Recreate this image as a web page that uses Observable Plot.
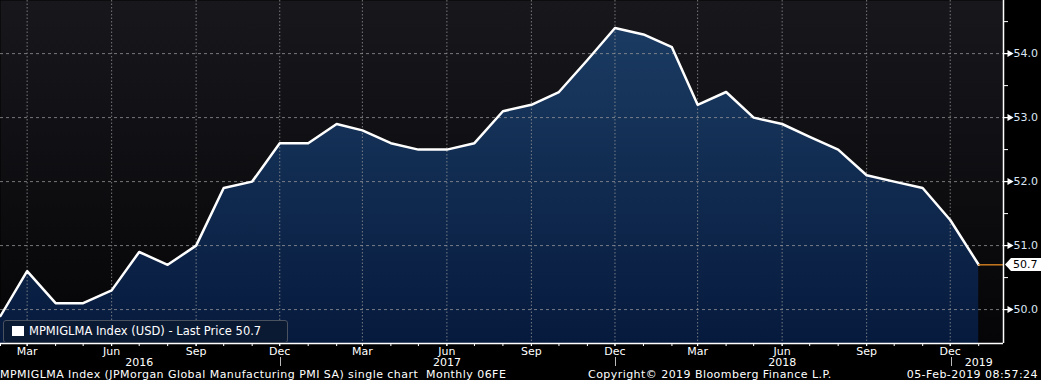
<!DOCTYPE html>
<html><head><meta charset="utf-8">
<script src="https://cdn.jsdelivr.net/npm/d3@7"></script>
<script src="https://cdn.jsdelivr.net/npm/@observablehq/plot@0.6"></script>
<style>
body{margin:0;background:#000;}
#wrap{position:relative;width:1041px;height:380px;background:#000;overflow:hidden;font-family:"DejaVu Sans",sans-serif;}
#legend{position:absolute;left:3px;top:320px;width:283px;height:21px;border:1px solid #4a5260;border-radius:3px;background:#0b1a33;color:#fff;font-size:11.5px;line-height:21px;white-space:nowrap;}
#legend .sw{display:inline-block;width:12px;height:10px;background:#fff;margin:0 5px 0 8px;vertical-align:-1px}
#footer{position:absolute;left:0;top:369px;width:1041px;height:11px;color:#fff;font-size:11px;line-height:11px;white-space:pre;letter-spacing:0.45px;}
#footer span{position:absolute;top:0}
#lastlabel{position:absolute;left:1005px;width:36px;height:13px;background:#fff;color:#000;font-size:11px;line-height:13px;padding-left:8px;box-sizing:border-box;white-space:nowrap;
  clip-path:polygon(0 50%, 6px 0, 100% 0, 100% 100%, 6px 100%);}
</style></head>
<body>
<div id="wrap">
  <div id="chart"></div>
  <div id="legend"><span class="sw"></span>MPMIGLMA Index (USD) - Last Price 50.7</div>
  <div id="lastlabel"></div>
  <div id="footer"><span style="left:0">MPMIGLMA Index (JPMorgan Global Manufacturing PMI SA) single chart  Monthly 06FE</span><span style="left:588px">Copyright© 2019 Bloomberg Finance L.P.</span><span style="right:3px">05-Feb-2019 08:57:24</span></div>
</div>
<script>
const months = ["2016-02","2016-03","2016-04","2016-05","2016-06","2016-07","2016-08","2016-09","2016-10","2016-11","2016-12",
"2017-01","2017-02","2017-03","2017-04","2017-05","2017-06","2017-07","2017-08","2017-09","2017-10","2017-11","2017-12",
"2018-01","2018-02","2018-03","2018-04","2018-05","2018-06","2018-07","2018-08","2018-09","2018-10","2018-11","2018-12",
"2019-01"];
const values = [49.9,50.6,50.1,50.1,50.3,50.9,50.7,51.0,51.9,52.0,52.6,
52.6,52.9,52.8,52.6,52.5,52.5,52.6,53.1,53.2,53.4,53.9,54.4,
54.3,54.1,53.2,53.4,53.0,52.9,52.7,52.5,52.1,52.0,51.9,51.4,
50.7];
const yTicks = [50, 51, 52, 53, 54];
const yMinorTicks = [50.5, 51.5, 52.5, 53.5, 54.5];
const monthLabelTicks = ["2016-03","2016-06","2016-09","2016-12","2017-03","2017-06","2017-09","2017-12","2018-03","2018-06","2018-09","2018-12"];
const yearLabelTicks = ["2016-07","2017-06","2018-06","2019-01"];
const yearLabels = ["2016","2017","2018","2019"];
const yearSeparators = ["2016-12","2017-12","2018-12"];
const xDomain = ["2016-02-01","2019-01-28"];
const yDomain = [49.47, 54.83];

const pm = d3.utcParse("%Y-%m");
const pd = d3.utcParse("%Y-%m-%d");
const data = months.map((m, i) => ({date: pm(m), value: values[i]}));
const allMonths = months.map(pm);
const quarterDates = monthLabelTicks.map(pm);
const yearDates = yearLabelTicks.map(pm);
const sepDates = yearSeparators.map(pm);
const domainX = xDomain.map(pd);
const last = data[data.length - 1];

const defs = () => {
  const d = d3.create("svg:defs");
  const a = d.append("linearGradient").attr("id", "areaGrad").attr("x1", 0).attr("y1", 0).attr("x2", 0).attr("y2", 1);
  a.append("stop").attr("offset", "0%").attr("stop-color", "#1b3b62");
  a.append("stop").attr("offset", "100%").attr("stop-color", "#061a3d");
  const b = d.append("linearGradient").attr("id", "bgGrad").attr("x1", 0).attr("y1", 0).attr("x2", 0).attr("y2", 1);
  b.append("stop").attr("offset", "0%").attr("stop-color", "#18171c");
  b.append("stop").attr("offset", "100%").attr("stop-color", "#050507");
  return d.node();
};

const separators = (index, scales, vals, dims) => {
  const g = d3.create("svg:g");
  const yb = dims.height - dims.marginBottom;
  for (const s of sepDates) {
    const x = Math.round(scales.x(s)) + 1.5;
    g.append("line").attr("x1", x).attr("x2", x).attr("y1", yb + 14).attr("y2", yb + 23).style("stroke", "#bbb").style("stroke-width", "1px");
  }
  return g.node();
};

const chart = Plot.plot({
  width: 1041,
  height: 366,
  marginTop: 0,
  marginRight: 38,
  marginBottom: 23,
  marginLeft: 0,
  style: {background: "transparent", color: "#fff", fontFamily: "DejaVu Sans, sans-serif", fontSize: "11px", overflow: "visible"},
  x: {type: "utc", domain: domainX},
  y: {domain: yDomain},
  marks: [
    defs,
    Plot.frame({fill: "url(#bgGrad)", stroke: "none"}),
    Plot.areaY(data, {x: "date", y1: yDomain[0], y2: "value", fill: "url(#areaGrad)", curve: "linear"}),
    Plot.gridY(yTicks, {stroke: "#9a9a9a", strokeOpacity: 0.75, strokeDasharray: "3,3"}),
    Plot.gridX(quarterDates, {stroke: "#9a9a9a", strokeOpacity: 0.75, strokeDasharray: "1.5,2"}),
    Plot.lineY(data, {x: "date", y: "value", stroke: "#fff", strokeWidth: 2.5}),
    Plot.ruleY([last.value], {x1: () => last.date, x2: () => domainX[1], stroke: "#c8791f", strokeWidth: 1.5}),
    Plot.ruleX([domainX[1]], {stroke: "#fff", strokeWidth: 1.5}),
    Plot.ruleY([yDomain[0]], {stroke: "#fff", strokeWidth: 1.5}),
    Plot.axisY({anchor: "right", ticks: yTicks, tickSize: 8, tickPadding: 2, tickFormat: d => d.toFixed(1), fontSize: 11, fill: "#dbe6f5", stroke: "#fff", strokeWidth: 1.2, label: null}),
    Plot.axisY({anchor: "right", ticks: yMinorTicks, tickSize: 4, tickFormat: () => "", stroke: "#fff", label: null}),
    Plot.dot(yTicks, {x: () => domainX[1], y: d => d, symbol: "triangle", rotate: 90, r: 2.6, dx: 6, fill: "#fff", stroke: "none"}),
    Plot.axisX({ticks: allMonths, tickSize: 3, tickFormat: () => "", stroke: "#fff", label: null}),
    Plot.axisX({ticks: quarterDates, tickSize: 3, tickPadding: 1, tickFormat: d3.utcFormat("%b"), fontSize: 11, fill: "#fff", stroke: "#fff", label: null}),
    Plot.axisX({ticks: yearDates, tickSize: 0, tickPadding: 15, tickFormat: d => yearLabels[yearDates.findIndex(t => +t === +d)], fontSize: 11, fill: "#fff", label: null}),
    separators
  ]
});
document.getElementById("chart").appendChild(chart);
const yPos = chart.scale("y").apply(last.value);
const lbl = document.getElementById("lastlabel");
lbl.textContent = last.value.toFixed(1);
lbl.style.top = (Math.round(yPos) - 6) + "px";
</script>
</body></html>
